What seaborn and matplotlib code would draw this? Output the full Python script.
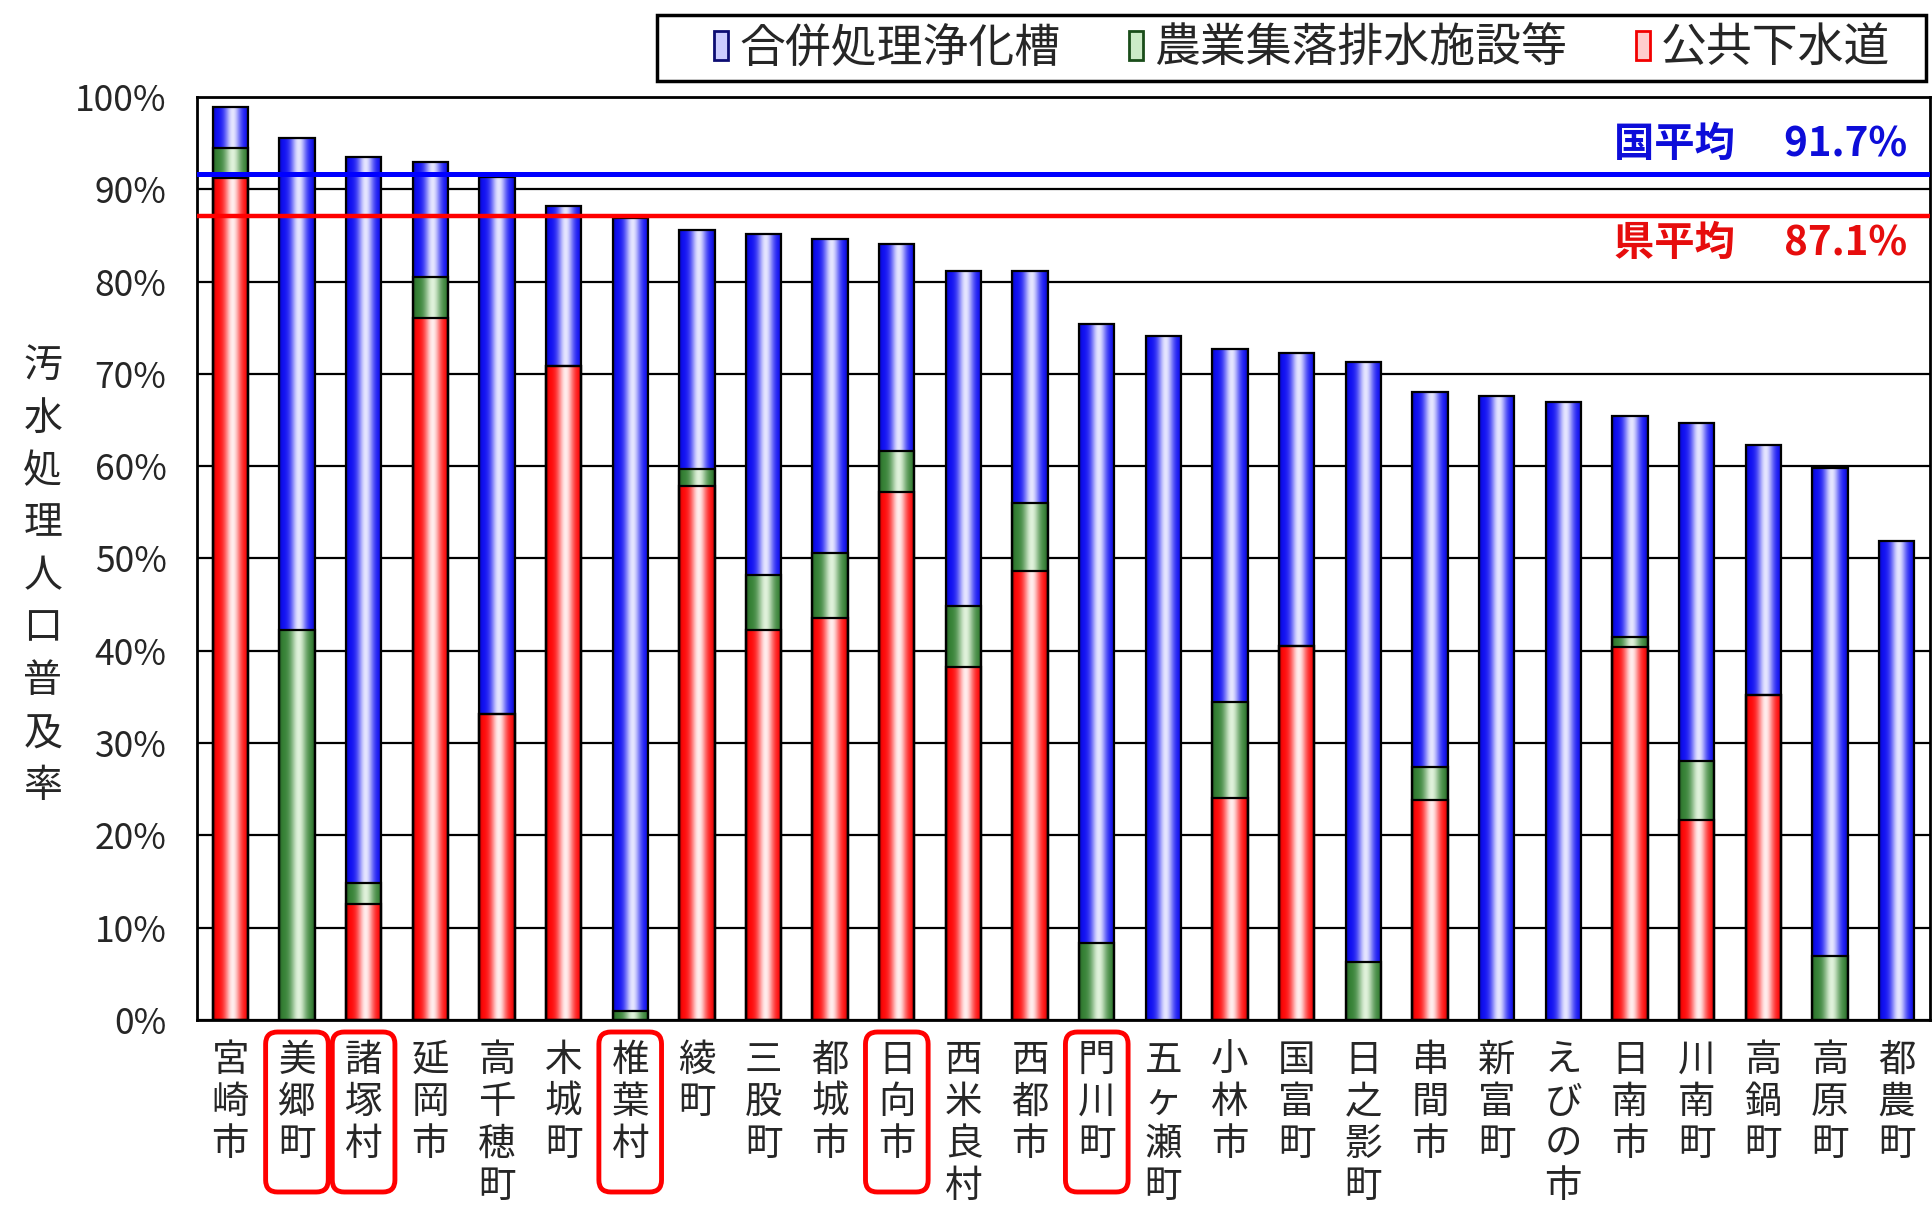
import numpy as np
import pandas as pd
import matplotlib
matplotlib.use("Agg")
import matplotlib.pyplot as plt
import seaborn as sns
from matplotlib.patches import Patch, FancyBboxPatch, Rectangle
from matplotlib.transforms import IdentityTransform, blended_transform_factory

# 市町村別 汚水処理人口普及率 (%)
municipalities = ["宮崎市", "美郷町", "諸塚村", "延岡市", "高千穂町", "木城町", "椎葉村",
                  "綾町", "三股町", "都城市", "日向市", "西米良村", "西都市", "門川町",
                  "五ヶ瀬町", "小林市", "国富町", "日之影町", "串間市", "新富町", "えびの市",
                  "日南市", "川南町", "高鍋町", "高原町", "都農町"]
sewer = [91.2, 0.0, 12.6, 76.0, 33.2, 70.8, 0.0, 57.9, 42.3, 43.5, 57.2, 38.2, 48.6, 0.0,
         0.0, 24.0, 40.5, 0.0, 23.8, 0.0, 0.0, 40.4, 21.7, 35.2, 0.0, 0.0]
rural = [3.3, 42.2, 2.2, 4.5, 0.0, 0.0, 1.0, 1.8, 5.9, 7.1, 4.4, 6.7, 7.4, 8.3,
         0.0, 10.5, 0.0, 6.3, 3.6, 0.0, 0.0, 1.1, 6.4, 0.0, 6.9, 0.0]
septic = [4.4, 53.4, 78.7, 12.4, 58.1, 17.4, 85.9, 25.9, 37.0, 34.0, 22.5, 36.2, 25.1, 67.1,
          74.1, 38.2, 31.8, 65.0, 40.6, 67.6, 67.0, 23.9, 36.6, 27.1, 52.9, 51.9]
series_names = ["合併処理浄化槽", "農業集落排水施設等", "公共下水道"]
highlighted = ["美郷町", "諸塚村", "椎葉村", "日向市", "門川町"]
national_avg = 91.7
pref_avg = 87.1

sns.set_style("white")
plt.rcParams["font.family"] = ["Noto Sans CJK JP", "DejaVu Sans"]

df = pd.DataFrame({"市町村": municipalities, "公共下水道": sewer,
                   "農業集落排水施設等": rural, "合併処理浄化槽": septic})
df["下水道+農集"] = df["公共下水道"] + df["農業集落排水施設等"]
df["合計"] = df["下水道+農集"] + df["合併処理浄化槽"]

fig = plt.figure(figsize=(19.33, 12.24), dpi=100)
ax = fig.add_axes([0.1019, 0.1667, 0.8965, 0.7541])

# (column, edge colour of the shading, highlight colour)
layers = [
    ("合計", (0.05, 0.05, 0.95), (0.90, 0.90, 1.00)),
    ("下水道+農集", (0.20, 0.50, 0.20), (0.88, 0.95, 0.86)),
    ("公共下水道", (1.00, 0.02, 0.02), (1.00, 0.93, 0.93)),
]


def cylinder_gradient(base, light, n=80):
    t = np.linspace(0, 1, n)
    w = np.exp(-((t - 0.55) / 0.22) ** 2)
    edge = 1 - 0.25 * (np.exp(-(t / 0.06) ** 2) + np.exp(-((1 - t) / 0.06) ** 2))
    base = np.array(base)[None, :] * edge[:, None]
    light = np.array(light)[None, :]
    grad = base * (1 - w[:, None]) + light * w[:, None]
    return np.clip(grad, 0, 1)[None, :, :]


for z, (col, base, light) in enumerate(layers):
    n0 = len(ax.patches)
    sns.barplot(data=df, x="市町村", y=col, order=municipalities, color=base,
                width=0.53, saturation=1, edgecolor="black", linewidth=1.6, ax=ax)
    grad = cylinder_gradient(base, light)
    for p in ax.patches[n0:]:
        h = p.get_height()
        if h <= 0:
            p.set_visible(False)
            continue
        x0, w = p.get_x(), p.get_width()
        ax.imshow(grad, extent=(x0, x0 + w, 0, h), aspect="auto",
                  interpolation="bilinear", zorder=2 + 0.1 * z)
        p.set_facecolor("none")
        p.set_zorder(3)

ax.set_xlim(-0.5, len(municipalities) - 0.5)
ax.set_ylim(0, 100)

# averages
ax.axhline(national_avg, color=(0.0, 0.0, 1.0), lw=3.6, zorder=4)
ax.axhline(pref_avg, color=(1.0, 0.0, 0.0), lw=3.2, zorder=4)
label_tf = blended_transform_factory(ax.transAxes, ax.transData)
ax.text(0.987, national_avg + 3.2, f"国平均　 {national_avg:.1f}%", transform=label_tf,
        ha="right", va="center", color=(0.05, 0.05, 0.85), fontsize=29, fontweight="bold", zorder=5)
ax.text(0.987, pref_avg - 3.0, f"県平均　 {pref_avg:.1f}%", transform=label_tf,
        ha="right", va="center", color=(0.9, 0.05, 0.05), fontsize=29, fontweight="bold", zorder=5)

# axes styling
yticks = np.arange(0, 101, 10)
ax.set_yticks(yticks)
ax.set_yticklabels([f"{v}%" for v in yticks])
ax.yaxis.grid(True, color="black", lw=1.6)
ax.xaxis.grid(False)
ax.set_axisbelow(True)
ax.tick_params(axis="y", length=0, pad=22, labelsize=25.5)
ax.set_xticks(range(len(municipalities)))
ax.set_xticklabels(["\n".join(m) for m in municipalities], linespacing=1.1)
ax.tick_params(axis="x", length=0, pad=15, labelsize=27)
ax.set_xticks(np.arange(0.5, len(municipalities) - 1, 1.0), minor=True)
ax.tick_params(axis="x", which="minor", direction="in", length=6, width=1.5, color="black")
ax.set_xlabel("")
ax.set_ylabel("")
for s in ax.spines.values():
    s.set_color("black")
    s.set_linewidth(2)

fig.text(0.0222, 0.5294, "\n".join("汚水処理人口普及率"), ha="center", va="center",
         fontsize=28, linespacing=1.4)

# legend: entries plus a separate box around them
handles = [
    Patch(facecolor=(0.80, 0.80, 1.0), edgecolor=(0.05, 0.05, 0.45), lw=2),
    Patch(facecolor=(0.80, 0.92, 0.78), edgecolor=(0.10, 0.30, 0.10), lw=2),
    Patch(facecolor=(1.0, 0.80, 0.80), edgecolor=(0.95, 0.0, 0.0), lw=2),
]
leg = fig.legend(handles, series_names, loc="center", bbox_to_anchor=(0.6737, 0.9608),
                 borderaxespad=0, ncol=3, frameon=False, fontsize=33,
                 handlelength=0.3, handleheight=0.6, handletextpad=0.25,
                 columnspacing=1.5, borderpad=0)
fig.add_artist(Rectangle((0.3399, 0.9338), 0.9964 - 0.3399, 0.9877 - 0.9338,
                         transform=fig.transFigure, fill=False, edgecolor="black", lw=2.5))

# frames around highlighted municipalities
fig.canvas.draw()
for name in highlighted:
    i = municipalities.index(name)
    xa = ax.transData.transform((i - 0.47, 0))[0]
    xb = ax.transData.transform((i + 0.47, 0))[0]
    box = FancyBboxPatch((xa, 32), xb - xa, 160, boxstyle="round,pad=0,rounding_size=12",
                         transform=IdentityTransform(), fill=False,
                         edgecolor=(1.0, 0.0, 0.0), lw=3.5)
    fig.add_artist(box)

fig.savefig("out.png", dpi=100, facecolor="white")
